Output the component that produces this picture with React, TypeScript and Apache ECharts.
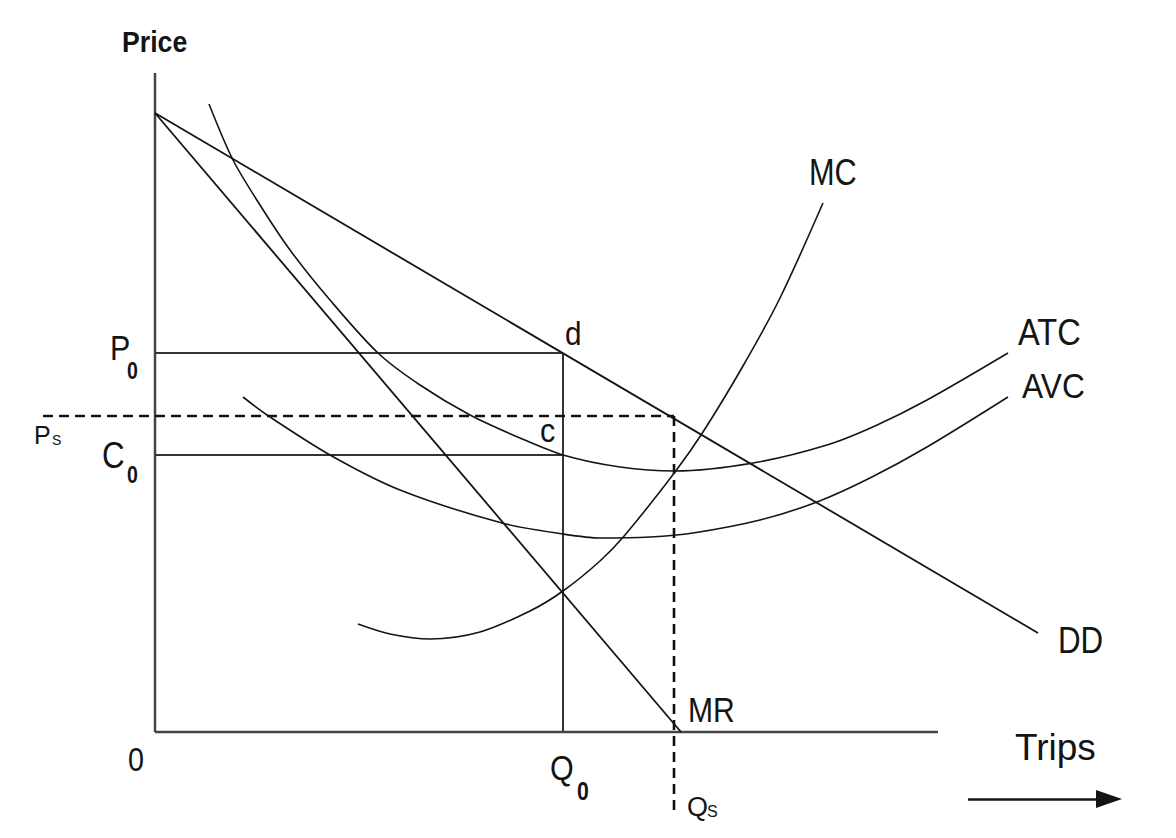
import React, { useEffect, useRef } from "react";
import * as echarts from "echarts";

// Chart units: quantity (x) and price (y) measured from the origin.
const DD: number[][] = [[0, 619], [883, 99]];
const MR: number[][] = [[0, 619], [526, 0]];
const ATC: number[][] = [
  [54, 628], [78, 572], [105, 527], [135, 482], [175, 432], [223, 379], [265, 347],
  [315, 317], [365, 294], [408, 277], [465, 265], [520, 261], [598, 269], [672, 287],
  [720, 306], [772, 332], [853, 379],
];
const AVC: number[][] = [
  [88, 335], [112, 317], [175, 277], [245, 242], [347, 209], [408, 198], [445, 194],
  [495, 195], [538, 199], [605, 212], [662, 230], [715, 254], [772, 285], [853, 335],
];
const MC: number[][] = [
  [203, 108], [235, 98], [275, 93], [325, 100], [375, 121], [408, 141], [445, 171],
  [470, 197], [520, 260], [548, 300], [588, 366], [625, 434], [668, 529],
];
const P0 = 379;
const C0 = 277;
const Q0 = 408;
const PS = 316;
const QS = 519;
const X_END = 783;
const Y_END = 659;

const INK = "#141414";
const AXIS = "#444444";
const FONT = "'Liberation Sans', Arial, sans-serif";

function seg(name: string, data: number[][], width: number, color: string, dashed = false, smooth: boolean | number = false) {
  return {
    name,
    type: "line",
    data,
    smooth,
    showSymbol: false,
    symbol: "none",
    silent: true,
    clip: false,
    lineStyle: { color, width, type: dashed ? [10, 6] : "solid" },
    z: dashed ? 4 : 3,
  };
}

function label(text: string, x: number, y: number, size: number, opts: any = {}) {
  return {
    type: "text",
    x,
    y,
    scaleX: opts.scaleX ?? 0.87,
    scaleY: 1,
    silent: true,
    z: 10,
    style: {
      text,
      fontSize: size,
      fontFamily: FONT,
      fontWeight: opts.bold ? "bold" : "normal",
      fill: INK,
      align: "left",
      verticalAlign: "middle",
      textAlign: "left",
      textVerticalAlign: "middle",
    },
  };
}

export default function App() {
  const ref = useRef<HTMLDivElement>(null);
  useEffect(() => {
    if (!ref.current) return;
    const chart = echarts.init(ref.current, undefined, { renderer: "svg" });
    chart.setOption({
      animation: false,
      backgroundColor: "#ffffff",
      grid: { left: 0, right: 0, top: 0, bottom: 0 },
      xAxis: { type: "value", min: -155, max: 1021, show: false },
      yAxis: { type: "value", min: -106, max: 732, show: false },
      series: [
        seg("yaxis", [[0, 0], [0, Y_END]], 2.5, AXIS),
        seg("xaxis", [[0, 0], [X_END, 0]], 2.5, AXIS),
        seg("P0", [[0, P0], [Q0, P0]], 2, "#333"),
        seg("C0", [[0, C0], [Q0, C0]], 2, "#333"),
        seg("Q0", [[Q0, 0], [Q0, P0]], 2, "#333"),
        seg("DD", DD, 1.8, INK),
        seg("MR", MR, 1.8, INK),
        seg("ATC", ATC, 1.6, INK, false, 0.3),
        seg("AVC", AVC, 1.6, INK, false, 0.3),
        seg("MC", MC, 1.6, INK, false, 0.3),
        seg("Ps", [[-112, PS], [QS, PS]], 2.6, "#111", true),
        seg("Qs", [[QS, PS], [QS, -80]], 2.6, "#111", true),
        {
          name: "arrow",
          type: "line",
          data: [],
          silent: true,
          markLine: {
            silent: true,
            symbol: ["none", "triangle"],
            symbolSize: [18, 26],
            label: { show: false },
            lineStyle: { color: INK, width: 2.5, type: "solid" },
            data: [[{ coord: [813, -67] }, { coord: [954, -67] }]],
          },
        },
      ],
      graphic: [
        label("Price", 122, 41, 30, { bold: true, scaleX: 0.89 }),
        label("MC", 809, 172, 37, { scaleX: 0.83 }),
        label("ATC", 1018, 332, 37, { scaleX: 0.88 }),
        label("AVC", 1022, 385, 36, { scaleX: 0.88 }),
        label("DD", 1058, 640, 36, { scaleX: 0.87 }),
        label("MR", 688, 710, 35, { scaleX: 0.86 }),
        label("d", 565, 334, 33, { scaleX: 0.9 }),
        label("c", 540, 430, 34, { scaleX: 0.9 }),
        label("P", 110, 348, 35, { scaleX: 0.87 }),
        label("0", 127, 371, 23, { bold: true, scaleX: 0.85 }),
        label("C", 102, 455, 36, { scaleX: 0.87 }),
        label("0", 127, 475, 23, { bold: true, scaleX: 0.85 }),
        label("Q", 550, 768, 35, { scaleX: 0.87 }),
        label("0", 577, 791, 25, { bold: true, scaleX: 0.85 }),
        label("0", 128, 760, 33, { scaleX: 0.87 }),
        label("Trips", 1015, 747, 37, { scaleX: 1 }),
        label("P", 34, 435, 25, { scaleX: 1 }),
        label("S", 52, 440, 14, { scaleX: 1 }),
        label("Q", 687, 807, 27, { scaleX: 1 }),
        label("S", 707, 811, 16, { scaleX: 1 }),
      ],
    });
    return () => chart.dispose();
  }, []);
  return (
    <div
      ref={ref}
      style={{ position: "fixed", left: 0, top: 0, width: 1176, height: 838, background: "#fff" }}
    />
  );
}
